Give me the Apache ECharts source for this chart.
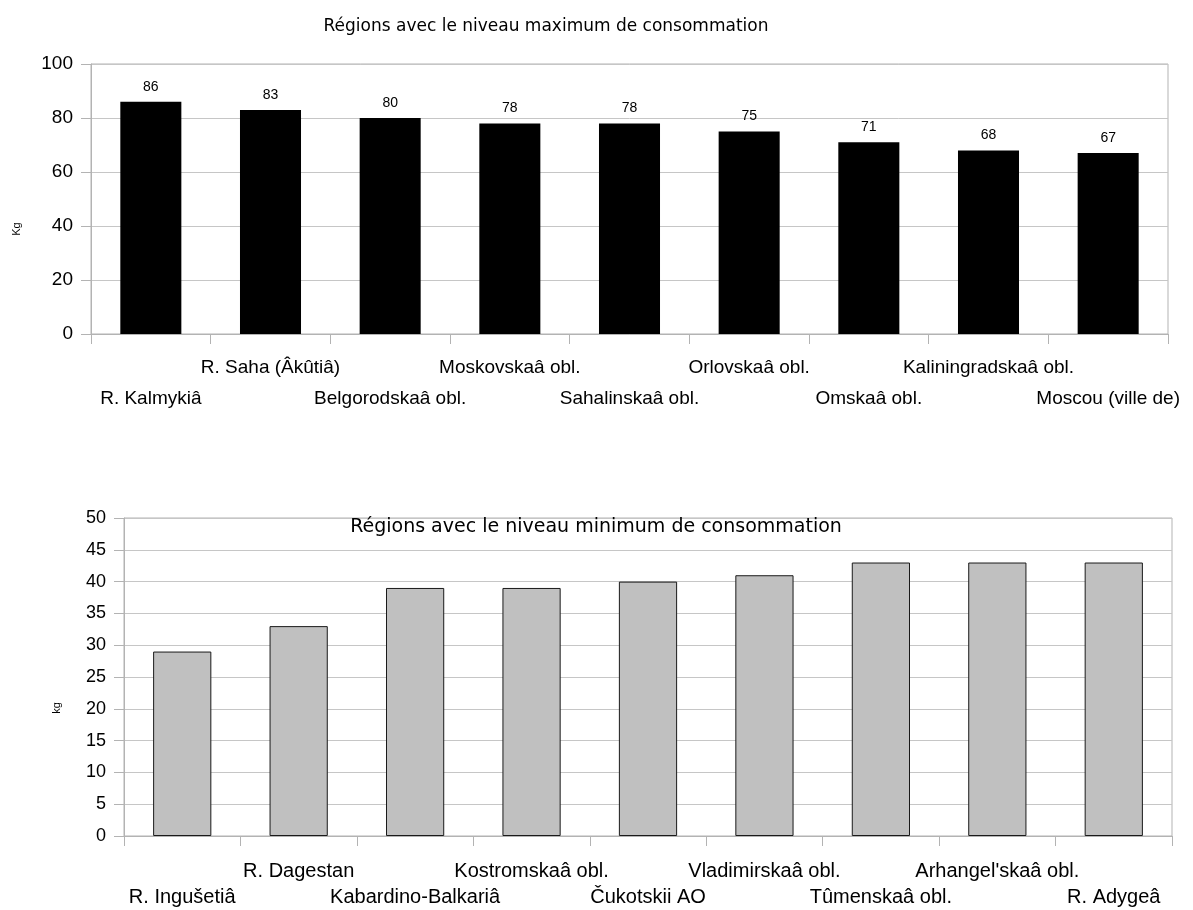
<!DOCTYPE html>
<html>
<head>
<meta charset="utf-8">
<script src="https://cdn.jsdelivr.net/npm/echarts@6/dist/echarts.min.js"></script>
<style>html,body{margin:0;padding:0;background:#fff}#c{width:1193px;height:910px}</style>
</head>
<body>
<div id="c"></div>
<script>
var maxCategories = ["R. Kalmykiâ", "R. Saha (Âkûtiâ)", "Belgorodskaâ obl.", "Moskovskaâ obl.", "Sahalinskaâ obl.", "Orlovskaâ obl.", "Omskaâ obl.", "Kaliningradskaâ obl.", "Moscou (ville de)"];
var maxValues = [86, 83, 80, 78, 78, 75, 71, 68, 67];
var minCategories = ["R. Ingušetiâ", "R. Dagestan", "Kabardino-Balkariâ", "Kostromskaâ obl.", "Čukotskii AO", "Vladimirskaâ obl.", "Tûmenskaâ obl.", "Arhangel'skaâ obl.", "R. Adygeâ"];
var minValues = [29, 33, 39, 39, 40, 41, 43, 43, 43];
var titleMax = "Régions avec le niveau maximum de consommation";
var titleMin = "Régions avec le niveau minimum de consommation";

var FONT = "Liberation Sans";
var chart = echarts.init(document.getElementById('c'), null, {renderer: 'canvas'});
function stagger(v, i) { return i % 2 === 1 ? v : '\n' + v; }
var gridLine = '#c6c6c6';
var axisCol = '#b3b3b3';

chart.setOption({
  animation: false,
  backgroundColor: '#ffffff',
  textStyle: {fontFamily: FONT, color: '#000'},
  title: [
    {text: titleMax, left: 541, top: 13, textAlign: 'center',
     textStyle: {fontFamily: 'DejaVu Sans', fontSize: 17, fontWeight: 'normal', color: '#000'}},
    {text: titleMin, left: 591, top: 513, textAlign: 'center',
     textStyle: {fontFamily: 'DejaVu Sans', fontSize: 19, fontWeight: 'normal', color: '#000'}}
  ],
  graphic: [
    {type: 'text', x: 17, y: 229, rotation: Math.PI / 2,
     style: {text: 'Kg', fontFamily: FONT, fontSize: 11, fill: '#000', align: 'center', verticalAlign: 'middle'}},
    {type: 'text', x: 57, y: 708, rotation: Math.PI / 2,
     style: {text: 'kg', fontFamily: FONT, fontSize: 11, fill: '#000', align: 'center', verticalAlign: 'middle'}}
  ],
  grid: [
    {left: 91, top: 64, width: 1077, height: 270, show: true, borderColor: axisCol, borderWidth: 1, backgroundColor: 'transparent'},
    {left: 124, top: 518, width: 1048, height: 320, show: true, borderColor: axisCol, borderWidth: 1, backgroundColor: 'transparent'}
  ],
  xAxis: [
    {type: 'category', gridIndex: 0, data: maxCategories, boundaryGap: true,
     axisLine: {lineStyle: {color: axisCol}},
     axisTick: {show: true, interval: 0, length: 10, lineStyle: {color: axisCol}},
     axisLabel: {interval: 0, margin: 18, fontSize: 19, lineHeight: 31, color: '#000', fontFamily: FONT, formatter: stagger, hideOverlap: false}},
    {type: 'category', gridIndex: 1, data: minCategories, boundaryGap: true,
     axisLine: {lineStyle: {color: axisCol}},
     axisTick: {show: true, interval: 0, length: 10, lineStyle: {color: axisCol}},
     axisLabel: {interval: 0, margin: 22, fontSize: 20, lineHeight: 26, color: '#000', fontFamily: FONT, formatter: stagger, hideOverlap: false}}
  ],
  yAxis: [
    {type: 'value', gridIndex: 0, min: 0, max: 100, interval: 20,
     axisLine: {show: true, lineStyle: {color: axisCol}},
     axisTick: {show: true, length: 10, lineStyle: {color: axisCol}},
     splitLine: {show: true, lineStyle: {color: gridLine}},
     axisLabel: {fontSize: 19, margin: 18, color: '#000', fontFamily: FONT}},
    {type: 'value', gridIndex: 1, min: 0, max: 50, interval: 5,
     axisLine: {show: true, lineStyle: {color: axisCol}},
     axisTick: {show: true, length: 10, lineStyle: {color: axisCol}},
     splitLine: {show: true, lineStyle: {color: gridLine}},
     axisLabel: {fontSize: 18, margin: 18, color: '#000', fontFamily: FONT}}
  ],
  series: [
    {type: 'bar', xAxisIndex: 0, yAxisIndex: 0, data: maxValues, barWidth: '51%',
     itemStyle: {color: '#000'},
     label: {show: true, position: 'top', distance: 8, fontSize: 14, color: '#000', fontFamily: FONT}},
    {type: 'bar', xAxisIndex: 1, yAxisIndex: 1, data: minValues, barWidth: '50%',
     itemStyle: {color: '#c0c0c0', borderColor: '#1a1a1a', borderWidth: 1}}
  ]
});
</script>
</body>
</html>
